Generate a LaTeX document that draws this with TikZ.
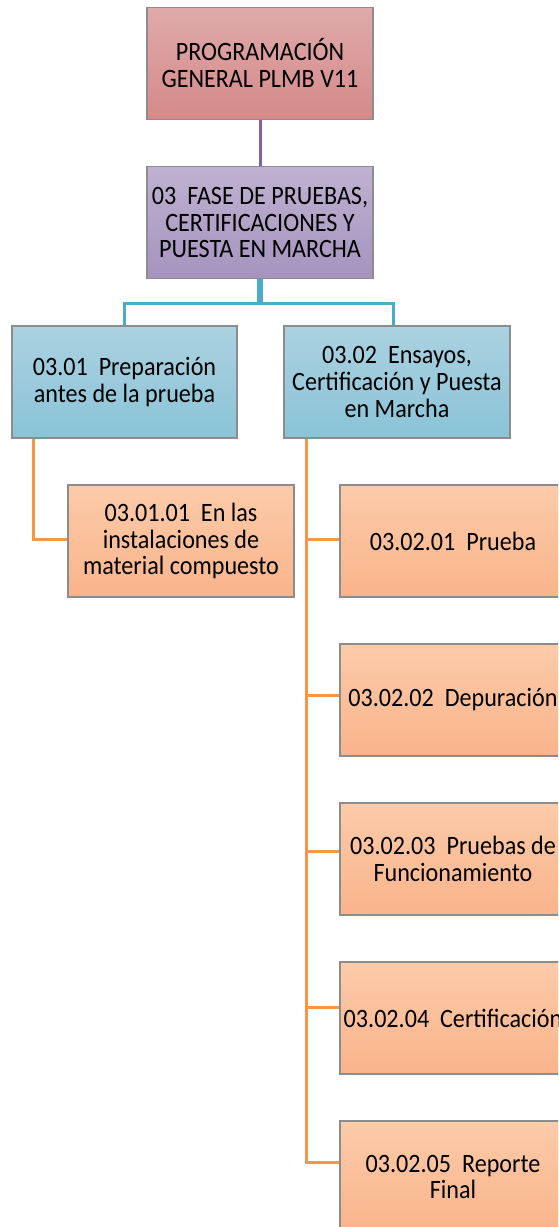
\documentclass[tikz,border=0pt]{standalone}
\usepackage{fontspec}
\setmainfont{Carlito}[FakeStretch=0.91]
\usetikzlibrary{positioning}
\definecolor{redT}{HTML}{DFAAAA}
\definecolor{redB}{HTML}{D48A89}
\definecolor{purT}{HTML}{BEB2D0}
\definecolor{purB}{HTML}{A593BE}
\definecolor{bluT}{HTML}{ABD2E0}
\definecolor{bluB}{HTML}{8AC3D7}
\definecolor{orT}{HTML}{FCCBA9}
\definecolor{orB}{HTML}{F9B48B}
\definecolor{edge}{HTML}{8C8C8C}
\definecolor{purL}{HTML}{8064A2}
\definecolor{bluL}{HTML}{4BACC6}
\definecolor{orL}{HTML}{F79646}
\tikzset{
  box/.style={rectangle, draw=edge, line width=1.5pt, minimum width=226pt, minimum height=112pt,
    align=center, inner sep=0pt, font=\fontsize{26.5}{26.7}\selectfont},
  redbox/.style={box, top color=redT, bottom color=redB},
  purbox/.style={box, top color=purT, bottom color=purB},
  blubox/.style={box, top color=bluT, bottom color=bluB},
  orbox/.style={box, top color=orT, bottom color=orB},
  purline/.style={draw=purL, line width=3pt},
  bluline/.style={draw=bluL, line width=3pt},
  orline/.style={draw=orL, line width=3pt},
}
\begin{document}
\begin{tikzpicture}[x=1pt,y=-1pt]
\useasboundingbox (0,0) rectangle (558,1227);
\clip (0,0) rectangle (558,1227);
% nodes
\node[redbox] (top) at (260,63.3) {PROGRAMACIÓN\\GENERAL PLMB V11};
\node[purbox] (pp) at (260,222.5) {03\ \ FASE DE PRUEBAS,\\CERTIFICACIONES Y\\PUESTA EN MARCHA};
\node[blubox, minimum width=225pt] (bl) at (124.5,381.8) {03.01\ \ Preparación\\antes de la prueba};
\node[blubox] (br) at (397,381.8) {03.02\ \ Ensayos,\\Certificación y Puesta\\en Marcha};
\node[orbox] (ol) at (181,541) {03.01.01\ \ En las\\instalaciones de\\material compuesto};
\node[orbox] (o1) at (453,541) {03.02.01\ \ Prueba};
\node[orbox] (o2) at (453,700) {03.02.02\ \ Depuración};
\node[orbox] (o3) at (453,859) {03.02.03\ \ Pruebas de\\Funcionamiento};
\node[orbox] (o4) at (453,1018) {03.02.04\ \ Certificación};
\node[orbox] (o5) at (453,1177) {03.02.05\ \ Reporte\\Final};
% connector end points
\coordinate (lstart) at ([xshift=22.3pt]bl.south west);
\coordinate (rstart) at ([xshift=23.3pt]br.south west);
\coordinate (olw) at ([yshift=1.7pt]ol.west);
\coordinate (e1) at ([yshift=1.7pt]o1.west);
\coordinate (e2) at ([yshift=5pt]o2.west);
\coordinate (e3) at ([yshift=8pt]o3.west);
\coordinate (e4) at ([yshift=11pt]o4.west);
\coordinate (e5) at ([yshift=15pt]o5.west);
% connectors
\draw[purline] (top.south) -- (pp.north);
\draw[bluline] ([xshift=-1.7pt]pp.south) -- ++(0,24) -| (bl.north);
\draw[bluline] ([xshift=1.5pt]pp.south) -- ++(0,24) -| ([xshift=-3.7pt]br.north);
\draw[orline] (lstart) |- (olw);
\draw[orline] (rstart) |- (e5);
\draw[orline] (rstart |- e1) -- (e1);
\draw[orline] (rstart |- e2) -- (e2);
\draw[orline] (rstart |- e3) -- (e3);
\draw[orline] (rstart |- e4) -- (e4);
\end{tikzpicture}
\end{document}
